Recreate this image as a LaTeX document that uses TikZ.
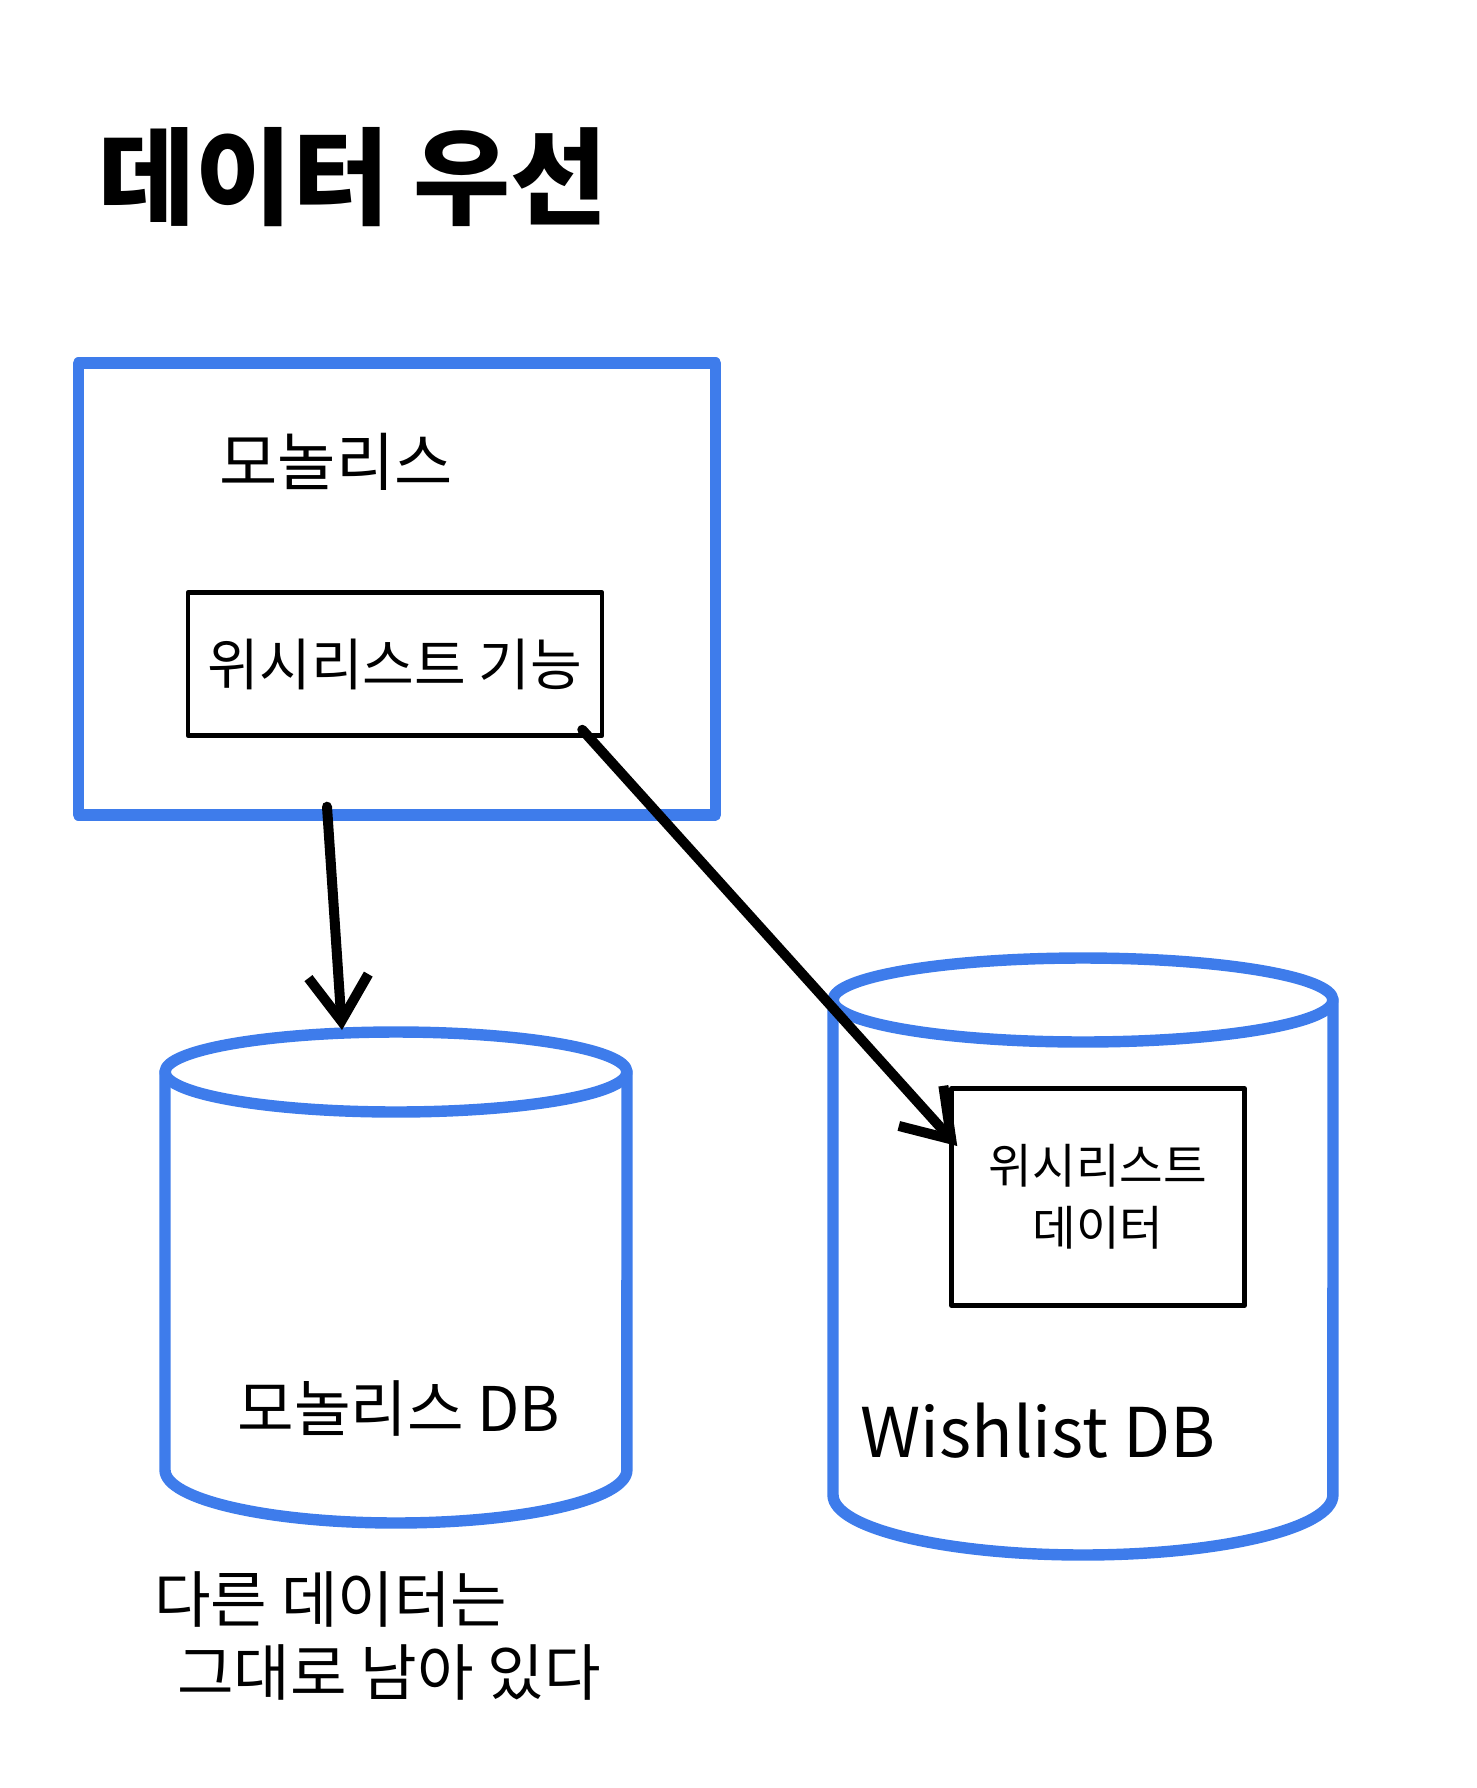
\documentclass[tikz,border=0pt]{standalone}
\usepackage{fontspec}
\setmainfont{Noto Sans CJK KR}
\usetikzlibrary{arrows.meta,calc}
\definecolor{penblue}{RGB}{62,124,235}

\begin{document}
\begin{tikzpicture}[x=0.02cm, y=-0.02cm, line cap=round, line join=round,
  hand/.style={font=\fontsize{#1}{#1}\selectfont},
  monobox/.style={draw=penblue, line width=6.5pt, minimum width=12.74cm,
                  minimum height=9.04cm},
  inner/.style={draw, line width=2.6pt, align=center,
                font=\fontsize{#1}{1.3\dimexpr#1pt\relax}\selectfont},
  db/.style={penblue, line width=6.5pt},
  flow/.style={-{Straight Barb[length=0.9cm, width=1.2cm]}, line width=5.7pt}
]
  \useasboundingbox (0,0) rectangle (1477,1788);

  \node[font=\fontsize{60}{60}\selectfont\bfseries, anchor=west]
        (title) at (92,177) {데이터 우선};

  \node[monobox] (mono) at (397,589) {};
  \node[hand=36] (monolabel) at (336,462) {모놀리스};
  \node[inner=32, minimum width=8.28cm, minimum height=2.86cm]
        (func) at (395,664) {위시리스트 기능};

  % monolith DB
  \draw[db] (396,1072) ellipse [x radius=4.62cm, y radius=0.8cm];
  \draw[db] (165,1072) -- (165,1470)
            arc [start angle=180, end angle=360, x radius=4.62cm, y radius=1.06cm]
            -- (627,1072);
  \coordinate (mdbtop) at (342,1030);
  \node[hand=35] (mdblabel) at (399,1408) {모놀리스 DB};

  % wishlist DB
  \draw[db] (1083,1000) ellipse [x radius=5cm, y radius=0.84cm];
  \draw[db] (833,1000) -- (833,1495)
            arc [start angle=180, end angle=360, x radius=5cm, y radius=1.2cm]
            -- (1333,1000);
  \node[inner=27, minimum width=5.86cm, minimum height=4.34cm]
        (wdata) at (1098,1197) {위시리스트\\데이터};
  \node[hand=39] (wdblabel) at (1038,1431) {Wishlist DB};

  \node[align=left, anchor=west, font=\fontsize{35}{42}\selectfont]
        (note) at (148,1636) {다른 데이터는\\\hspace{0.46cm}그대로 남아 있다};

  \draw[flow] ($(mono.south)+(-70,-14)$) -- (mdbtop);
  \draw[flow] ($(func.south east)+(-22,-8)$) -- ($(wdata.west)+(8,-51)$);
\end{tikzpicture}
\end{document}
